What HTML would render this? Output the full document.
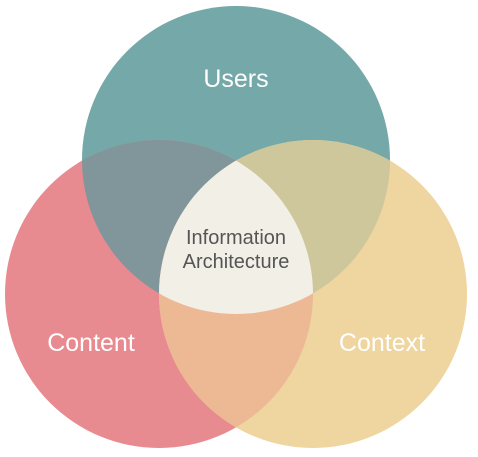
<!DOCTYPE html>
<html><head><style>html,body{margin:0;padding:0;background:#fff;width:478px;height:457px;overflow:hidden}</style></head>
<body>
<svg width="478" height="457" viewBox="0 0 478 457" xmlns="http://www.w3.org/2000/svg" style="display:block">
<defs>
<clipPath id="cu"><circle cx="236" cy="160" r="154"/></clipPath>
<clipPath id="cc"><circle cx="159" cy="294" r="154"/></clipPath>
<clipPath id="cx"><circle cx="313" cy="294" r="154"/></clipPath>
</defs>
<circle cx="236" cy="160" r="154" fill="#75a8a8"/>
<circle cx="159" cy="294" r="154" fill="#e88b91"/>
<circle cx="313" cy="294" r="154" fill="#efd59f"/>
<g clip-path="url(#cu)"><circle cx="159" cy="294" r="154" fill="#81969a"/><circle cx="313" cy="294" r="154" fill="#cdc79b"/></g>
<g clip-path="url(#cc)"><circle cx="313" cy="294" r="154" fill="#ecb994"/></g>
<g clip-path="url(#cu)"><g clip-path="url(#cc)"><circle cx="313" cy="294" r="154" fill="#f2efe6"/></g></g>
<g font-family="Liberation Sans, sans-serif" text-anchor="middle">
<text x="236" y="87" font-size="25" fill="#fff">Users</text>
<text x="91" y="351" font-size="25" fill="#fff">Content</text>
<text x="382" y="351" font-size="25" fill="#fff">Context</text>
<text x="236" y="244" font-size="20" fill="#555">Information</text>
<text x="236" y="268" font-size="20" fill="#555">Architecture</text>
</g>
</svg>
</body></html>
